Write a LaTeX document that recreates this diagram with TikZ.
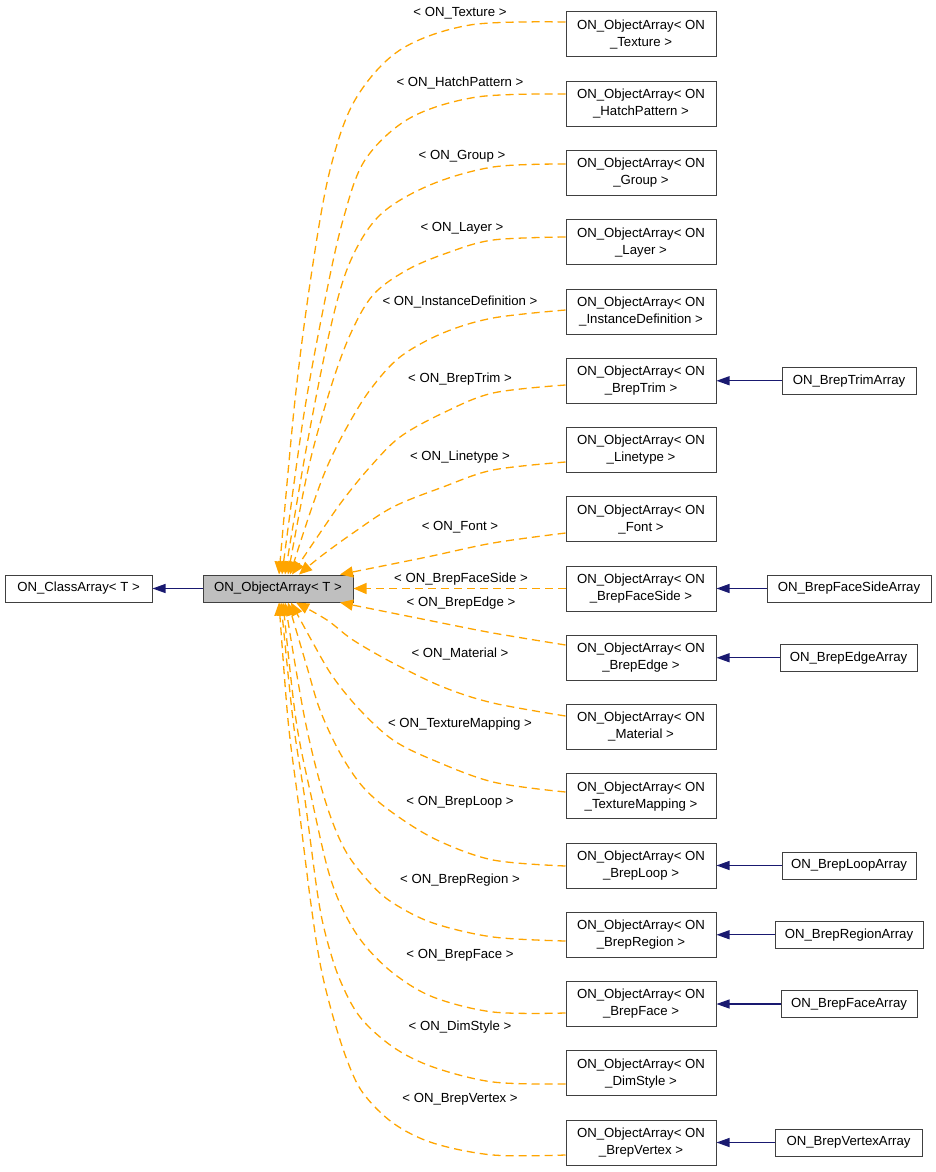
\documentclass[tikz,border=0pt]{standalone}
\usepackage{fontspec}
\setmainfont{Liberation Sans}
\usetikzlibrary{arrows.meta}
\definecolor{inhorange}{RGB}{255,165,0}
\definecolor{midblue}{RGB}{25,25,112}
\definecolor{boxgray}{RGB}{191,191,191}
\definecolor{border}{RGB}{64,64,64}
\begin{document}
\begin{tikzpicture}[x=1pt,y=-1pt,
  every node/.style={font=\fontsize{13.2}{17}\selectfont},
  cls/.style={draw=border,line width=1pt,inner sep=0pt,minimum height=27pt,align=center},
  tmpl/.style={cls,minimum width=150pt,minimum height=45pt},
  lbl/.style={inner sep=0pt},
  inh/.style={draw=inhorange,line width=1.3pt,dash pattern=on 8pt off 5pt,-{Triangle[length=13pt,width=11pt]}},
  der/.style={draw=midblue,line width=1.1pt,-{Triangle[length=13pt,width=9pt]}}]
\useasboundingbox (0,0) rectangle (936,1172);
% main nodes
\node[cls,minimum width=147pt] (C) at (78.5,588.5) {ON\_ClassArray< T >};
\node[cls,minimum width=150pt,fill=boxgray] (T) at (278,588.5) {ON\_ObjectArray< T >};
% template instances
\node[tmpl] (n1) at (641,34.5) {ON\_ObjectArray< ON\\\_Texture >};
\node[tmpl] (n2) at (641,103.75) {ON\_ObjectArray< ON\\\_HatchPattern >};
\node[tmpl] (n3) at (641,173) {ON\_ObjectArray< ON\\\_Group >};
\node[tmpl] (n4) at (641,242.25) {ON\_ObjectArray< ON\\\_Layer >};
\node[tmpl] (n5) at (641,311.5) {ON\_ObjectArray< ON\\\_InstanceDefinition >};
\node[tmpl] (n6) at (641,380.75) {ON\_ObjectArray< ON\\\_BrepTrim >};
\node[tmpl] (n7) at (641,450) {ON\_ObjectArray< ON\\\_Linetype >};
\node[tmpl] (n8) at (641,519.25) {ON\_ObjectArray< ON\\\_Font >};
\node[tmpl] (n9) at (641,588.5) {ON\_ObjectArray< ON\\\_BrepFaceSide >};
\node[tmpl] (n10) at (641,657.75) {ON\_ObjectArray< ON\\\_BrepEdge >};
\node[tmpl] (n11) at (641,727) {ON\_ObjectArray< ON\\\_Material >};
\node[tmpl] (n12) at (641,796.25) {ON\_ObjectArray< ON\\\_TextureMapping >};
\node[tmpl] (n13) at (641,865.5) {ON\_ObjectArray< ON\\\_BrepLoop >};
\node[tmpl] (n14) at (641,934.75) {ON\_ObjectArray< ON\\\_BrepRegion >};
\node[tmpl] (n15) at (641,1004) {ON\_ObjectArray< ON\\\_BrepFace >};
\node[tmpl] (n16) at (641,1073.25) {ON\_ObjectArray< ON\\\_DimStyle >};
\node[tmpl] (n17) at (641,1142.5) {ON\_ObjectArray< ON\\\_BrepVertex >};
% derived arrays
\node[cls,minimum width=134pt] (a6) at (849,380.75) {ON\_BrepTrimArray};
\node[cls,minimum width=164pt] (a9) at (849,588.5) {ON\_BrepFaceSideArray};
\node[cls,minimum width=137pt] (a10) at (848.5,657.75) {ON\_BrepEdgeArray};
\node[cls,minimum width=134pt] (a13) at (849,865.5) {ON\_BrepLoopArray};
\node[cls,minimum width=148pt] (a14) at (849,934.75) {ON\_BrepRegionArray};
\node[cls,minimum width=136pt] (a15) at (849,1004) {ON\_BrepFaceArray};
\node[cls,minimum width=147pt] (a17) at (848.5,1142.5) {ON\_BrepVertexArray};
% labels
\node[lbl] (l1) at (460,13) {< ON\_Texture >};
\node[lbl] (l2) at (460,83) {< ON\_HatchPattern >};
\node[lbl] (l3) at (462,156) {< ON\_Group >};
\node[lbl] (l4) at (462,228) {< ON\_Layer >};
\node[lbl] (l5) at (460,302) {< ON\_InstanceDefinition >};
\node[lbl] (l6) at (460,379) {< ON\_BrepTrim >};
\node[lbl] (l7) at (460,457) {< ON\_Linetype >};
\node[lbl] (l8) at (460,527) {< ON\_Font >};
\node[lbl] (l9) at (461,579) {< ON\_BrepFaceSide >};
\node[lbl] (l10) at (461,603) {< ON\_BrepEdge >};
\node[lbl] (l11) at (460,654) {< ON\_Material >};
\node[lbl] (l12) at (460,724) {< ON\_TextureMapping >};
\node[lbl] (l13) at (460,802) {< ON\_BrepLoop >};
\node[lbl] (l14) at (460,880) {< ON\_BrepRegion >};
\node[lbl] (l15) at (460,955) {< ON\_BrepFace >};
\node[lbl] (l16) at (460,1027) {< ON\_DimStyle >};
\node[lbl] (l17) at (460,1099) {< ON\_BrepVertex >};
% blue edges
\draw[der] (T.west) -- (C.east);
\foreach \i in {6,9,10,13,14,15,17} {\draw[der] (a\i.west) -- (n\i.east);}
% orange edges
\draw[inh] plot[smooth,tension=0.55] coordinates {(n1.west |- 0,22) (470,25) (400,50) (355,100) (330,170) (312,270) (295,400) (T.north -| 279,0)};
\draw[inh] plot[smooth,tension=0.55] coordinates {(n2.west |- 0,94) (477,97) (410,118) (365,160) (343,220) (325,300) (303,420) (T.north -| 282,0)};
\draw[inh] plot[smooth,tension=0.55] coordinates {(n3.west |- 0,164) (493,167) (430,185) (380,215) (350,262) (330,330) (306,450) (T.north -| 285,0)};
\draw[inh] plot[smooth,tension=0.55] coordinates {(n4.west |- 0,237) (493,240) (447,253) (407,270) (373,295) (350,335) (330,390) (308,470) (T.north -| 288,0)};
\draw[inh] plot[smooth,tension=0.55] coordinates {(n5.west |- 0,310) (493,318) (443,333) (400,357) (370,390) (347,427) (327,467) (310,513) (T.north -| 290,0)};
\draw[inh] plot[smooth,tension=0.55] coordinates {(n6.west |- 0,385) (493,393) (443,413) (400,437) (370,467) (343,500) (320,533) (T.north -| 292,0)};
\draw[inh] plot[smooth,tension=0.55] coordinates {(n7.west |- 0,462) (493,470) (443,487) (393,507) (353,533) (320,557) (T.north -| 299,0)};
\draw[inh] plot[smooth,tension=0.55] coordinates {(n8.west |- 0,533) (493,543) (427,557) (T.north -| 340,0)};
\draw[inh] (n9.west) -- (T.east);
\draw[inh] plot[smooth,tension=0.55] coordinates {(n10.west |- 0,645) (493,633) (427,620) (T.south -| 340,0)};
\draw[inh] plot[smooth,tension=0.55] coordinates {(n11.west |- 0,716) (493,703) (443,687) (393,663) (353,640) (327,620) (T.south -| 296,0)};
\draw[inh] plot[smooth,tension=0.55] coordinates {(n12.west |- 0,792) (493,782) (433,760) (393,740) (360,710) (333,677) (313,643) (T.south -| 291,0)};
\draw[inh] plot[smooth,tension=0.55] coordinates {(n13.west |- 0,866) (493,860) (437,840) (393,813) (363,787) (340,753) (320,710) (307,667) (T.south -| 288,0)};
\draw[inh] plot[smooth,tension=0.55] coordinates {(n14.west |- 0,941) (493,937) (433,923) (393,903) (370,883) (345,850) (325,800) (305,720) (T.south -| 285,0)};
\draw[inh] plot[smooth,tension=0.55] coordinates {(n15.west |- 0,1013) (493,1012) (433,997) (393,973) (363,943) (343,910) (328,870) (312,800) (296,720) (T.south -| 283,0)};
\draw[inh] plot[smooth,tension=0.55] coordinates {(n16.west |- 0,1084) (493,1082) (433,1067) (393,1047) (360,1017) (340,980) (327,940) (318,897) (305,800) (293,720) (T.south -| 281,0)};
\draw[inh] plot[smooth,tension=0.55] coordinates {(n17.west |- 0,1155) (493,1155) (433,1143) (393,1123) (363,1093) (347,1060) (332,1013) (320,963) (310,897) (298,800) (288,720) (T.south -| 279,0)};
\end{tikzpicture}
\end{document}
